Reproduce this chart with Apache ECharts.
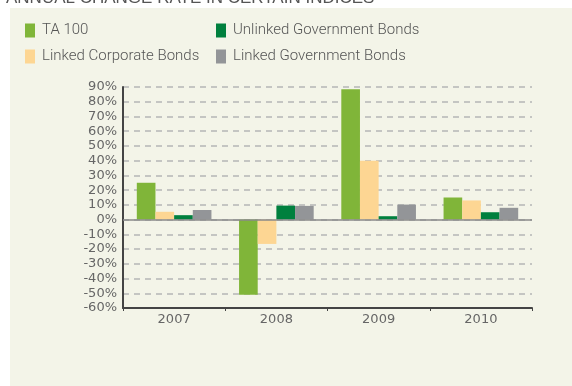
<!DOCTYPE html>
<html>
<head>
<meta charset="utf-8">
<style>html,body{margin:0;padding:0;background:#fff}#c{width:572px;height:386px}</style>
<script src="https://cdn.jsdelivr.net/npm/echarts@6/dist/echarts.min.js"></script>
</head>
<body>
<div id="c"></div>
<script>
const titleText = 'ANNUAL CHANGE RATE IN CERTAIN INDICES';
const years = ['2007', '2008', '2009', '2010'];
const ta100 = [25, -51, 88.5, 15];
const linkedCorporate = [5.3, -16.5, 40, 13];
const unlinkedGov = [3, 9.5, 2.3, 5];
const linkedGov = [6.5, 9.3, 10.2, 8];
const seriesNames = ['TA 100', 'Linked Corporate Bonds', 'Unlinked Government Bonds', 'Linked Government Bonds'];
const colors = ['#80b539', '#fdd693', '#00803e', '#939598'];

const chart = echarts.init(document.getElementById('c'), null, {renderer: 'canvas'});
const legendText = {fontFamily: 'Roboto, Liberation Sans, sans-serif', fontWeight: 300, fontSize: 15, color: '#555', padding: [0, 0, 0, 2]};
const values = [ta100, linkedCorporate, unlinkedGov, linkedGov];
const series = seriesNames.map((n, i) => ({
  name: n,
  type: 'bar',
  data: values[i],
  barGap: '0%',
  barCategoryGap: '27%',
  itemStyle: {color: colors[i]},
  animation: false
}));
series[0].markLine = {
  silent: true, symbol: 'none', animation: false,
  label: {show: false},
  lineStyle: {color: '#8a8a8a', width: 1.5, type: 'solid'},
  data: [{yAxis: 0}]
};
const legendCommon = {orient: 'vertical', top: 23, padding: 0, itemWidth: 10, itemHeight: 14, itemGap: 11, textStyle: legendText, icon: 'rect'};
chart.setOption({
  animation: false,
  graphic: [
    {type: 'rect', z: -10, shape: {x: 10, y: 8, width: 562, height: 378}, style: {fill: '#f3f4e8'}},
    {type: 'text', left: 6, top: -10, style: {text: titleText, fontFamily: 'Liberation Sans, Arial, sans-serif', fontSize: 17, fill: '#555'}}
  ],
  legend: [
    Object.assign({data: [seriesNames[0], seriesNames[1]], left: 25}, legendCommon),
    Object.assign({data: [seriesNames[2], seriesNames[3]], left: 216}, legendCommon)
  ],
  grid: {left: 123, right: 40, top: 87, bottom: 78, containLabel: false},
  xAxis: {
    type: 'category', data: years,
    axisLine: {onZero: false, lineStyle: {color: '#444', width: 2}},
    axisTick: {show: true, length: 3, inside: false, lineStyle: {color: '#444'}},
    axisLabel: {fontFamily: 'DejaVu Sans', fontSize: 13, color: '#666', margin: 5}
  },
  yAxis: {
    type: 'value', min: -60, max: 90, interval: 10,
    axisLine: {show: true, lineStyle: {color: '#444', width: 2}},
    axisTick: {show: false},
    axisLabel: {fontFamily: 'DejaVu Sans', fontSize: 13, color: '#666', margin: 6, formatter: v => v + '%'},
    splitLine: {lineStyle: {color: '#b5b5b5', width: 1.5, type: [6, 5]}}
  },
  series: series
});
</script>
</body>
</html>
